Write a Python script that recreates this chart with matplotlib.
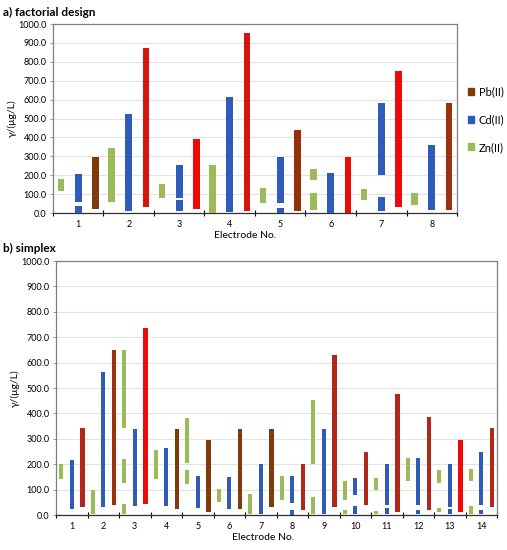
import matplotlib.pyplot as plt
from matplotlib.patches import Patch

# a) factorial design -- floating bars, each bar given as (low, high) segments
fd_electrodes = [1, 2, 3, 4, 5, 6, 7, 8]
fd_zn = [[(118, 181)], [(58, 345)], [(79, 155)], [(0, 252)],
         [(51, 132)], [(16, 106), (176, 234)], [(70, 128)], [(44, 106)]]
fd_cd = [[(0, 35), (58, 204)], [(9, 526)], [(9, 67), (81, 252)], [(4, 616)],
         [(0, 28), (51, 299)], [(0, 213)], [(9, 83), (201, 581)], [(16, 361)]]
fd_pb = [[(21, 299)], [(30, 871)], [(21, 391)], [(9, 954)],
         [(9, 437)], [(2, 299)], [(30, 752)], [(16, 581)]]

# b) simplex
sx_electrodes = list(range(1, 15))
sx_zn = [[(142, 199)], [(5, 97)], [(5, 45), (126, 220), (343, 651)], [(142, 255)],
         [(121, 177), (203, 383)], [(52, 102)], [(5, 83)], [(58, 154)],
         [(5, 72), (201, 454)], [(5, 18), (58, 134)], [(5, 16), (97, 144)],
         [(135, 226)], [(10, 29), (125, 177)], [(5, 37), (135, 182)]]
sx_cd = [[(24, 218)], [(30, 564)], [(35, 340)], [(34, 265)], [(29, 155)],
         [(24, 151)], [(5, 201)], [(0, 18), (49, 154)], [(5, 340)],
         [(5, 37), (79, 144)], [(5, 29), (39, 201)], [(5, 18), (39, 226)],
         [(5, 22), (30, 201)], [(5, 18), (39, 248)]]
sx_pb = [[(30, 344)], [(39, 651)], [(45, 738)], [(24, 340)], [(13, 295)],
         [(24, 340)], [(30, 340)], [(18, 199)], [(30, 630)], [(39, 248)],
         [(13, 475)], [(18, 387)], [(13, 295)], [(30, 341)]]

ZN = '#9bbb59'
CD = '#2e5cb8'
PB = '#7f3b0c'
PB_RB = '#b0281a'
PB_R = '#ee0a0a'
# colour of the Pb bars as they appear in the picture
fd_pb_col = [PB, '#d8140e', PB_R, '#d8140e', '#96300c', PB_R, PB_R, '#9a3210']
sx_pb_col = [PB_RB, '#a0300c', PB_R, PB, PB, PB, PB, PB_RB, PB_RB, PB_RB,
             PB_RB, PB_RB, PB_R, PB_RB]

plt.rcParams['font.family'] = ['Lato', 'DejaVu Sans']

fig = plt.figure(figsize=(5.07, 5.5), dpi=100)
ax_a = fig.add_axes([0.1045, 0.6127, 0.7969, 0.3436])
ax_b = fig.add_axes([0.1105, 0.0636, 0.8698, 0.4618])


def draw_panel(ax, electrodes, zn, cd, pb, pb_cols):
    off = 0.34
    w = 0.13
    for i, e in enumerate(electrodes):
        for lo, hi in zn[i]:
            ax.bar(e - off, hi - lo, bottom=lo, width=w, color=ZN, zorder=3)
        for lo, hi in cd[i]:
            ax.bar(e, hi - lo, bottom=lo, width=w, color=CD, zorder=3)
        for lo, hi in pb[i]:
            ax.bar(e + off, hi - lo, bottom=lo, width=w, color=pb_cols[i], zorder=3)
    n = len(electrodes)
    ax.set_xlim(0.5, n + 0.5)
    ax.set_ylim(0, 1000)
    ax.set_yticks(range(0, 1001, 100))
    ax.set_yticklabels([f'{v:.1f}' for v in range(0, 1001, 100)], fontsize=6.5)
    ax.set_xticks(electrodes)
    ax.set_xticklabels([str(e) for e in electrodes], fontsize=6.5)
    ax.set_xticks([k + 0.5 for k in range(0, n + 1)], minor=True)
    ax.tick_params(axis='x', which='major', length=0, pad=5)
    ax.tick_params(axis='x', which='minor', direction='inout', length=5, width=0.8)
    ax.tick_params(axis='y', length=2.5, width=0.6, color='#888888', pad=2)
    ax.yaxis.grid(True, color='#e3e3e3', linewidth=0.8, zorder=0)
    for s in ['top', 'right', 'left']:
        ax.spines[s].set_color('#7f7f7f')
        ax.spines[s].set_linewidth(0.9)
    ax.spines['bottom'].set_color('#303030')
    ax.spines['bottom'].set_linewidth(0.9)
    ax.set_ylabel('γ/(μg/L)', fontsize=7.5, labelpad=1)


draw_panel(ax_a, fd_electrodes, fd_zn, fd_cd, fd_pb, fd_pb_col)
draw_panel(ax_b, sx_electrodes, sx_zn, sx_cd, sx_pb, sx_pb_col)

fig.text(3 / 507, 1 - 12 / 550, 'a) factorial design', fontsize=8.5,
         fontweight='bold', va='center', ha='left')
fig.text(3 / 507, 1 - 248 / 550, 'b) simplex', fontsize=8.5,
         fontweight='bold', va='center', ha='left')
fig.text(245 / 507, 1 - 235 / 550, 'Electrode No.', fontsize=7.5,
         va='center', ha='center')
fig.text(263 / 507, 1 - 537 / 550, 'Electrode No.', fontsize=7.5,
         va='center', ha='center')

handles = [Patch(color=PB, label='Pb(II)'), Patch(color=CD, label='Cd(II)'),
           Patch(color=ZN, label='Zn(II)')]
fig.legend(handles=handles, loc='upper left', bbox_to_anchor=(462 / 507, 1 - 81 / 550),
           frameon=False, fontsize=8, handlelength=0.6, handleheight=0.6,
           handletextpad=0.4, labelspacing=1.5, borderpad=0)

fig.savefig('out.png', dpi=100)
